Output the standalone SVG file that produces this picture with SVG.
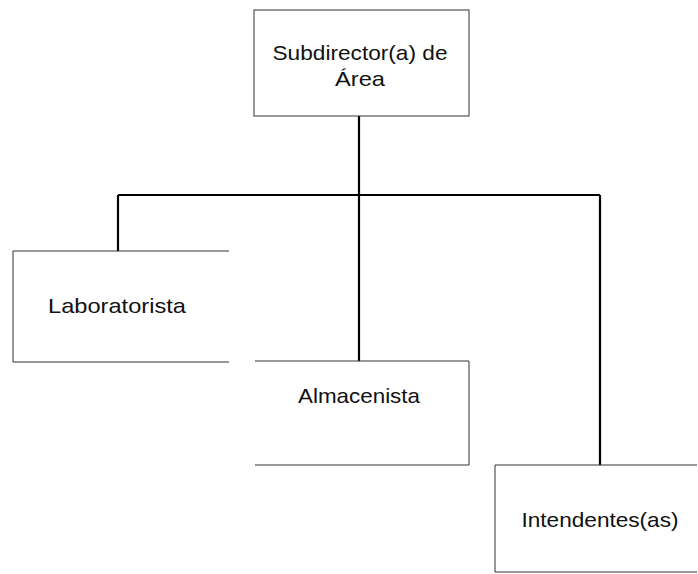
<svg xmlns="http://www.w3.org/2000/svg" width="698" height="574" viewBox="0 0 698 574">
<style>
.box{fill:#fff;stroke:#333;stroke-width:1}
.conn{fill:none;stroke:#000;stroke-width:2.2}
text{font-family:"Liberation Sans",Arial,sans-serif;font-size:21px;fill:#111;text-anchor:middle}
</style>
<rect width="698" height="574" fill="#fff"/>
<g id="connectors">
<path class="conn" d="M359 116 V195 M118 195 H600 M118 195 V251 M359 195 V361 M600 195 V465"/>
</g>
<g id="subdirector">
<rect class="box" x="254" y="10" width="215" height="106"/>
<text x="360" y="60" textLength="175" lengthAdjust="spacingAndGlyphs">Subdirector(a) de</text>
<text x="360" y="86" textLength="50" lengthAdjust="spacingAndGlyphs">Área</text>
</g>
<g id="laboratorista">
<path class="box" d="M229 251 H13 V362 H229"/>
<text x="117" y="313" textLength="138" lengthAdjust="spacingAndGlyphs">Laboratorista</text>
</g>
<g id="almacenista">
<path class="box" d="M255 361 H469 V465 H255"/>
<text x="359" y="403" textLength="122" lengthAdjust="spacingAndGlyphs">Almacenista</text>
</g>
<g id="intendentes">
<path class="box" d="M697 465 H495 V572 H697"/>
<text x="600" y="527" textLength="157" lengthAdjust="spacingAndGlyphs">Intendentes(as)</text>
</g>
</svg>
